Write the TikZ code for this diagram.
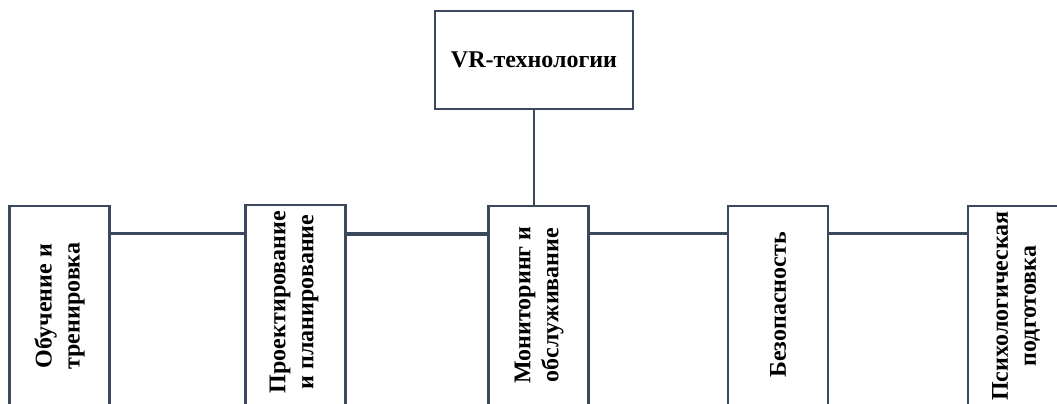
\documentclass[tikz,border=0pt]{standalone}
\usepackage{fontspec}
\setmainfont{Liberation Serif}
\definecolor{edge}{RGB}{60,73,92}
\tikzset{
  box/.style={draw=edge, line width=2.2pt, fill=white, inner sep=0pt},
  topbox/.style={box, minimum width=198pt, minimum height=98pt, font=\fontsize{24}{28}\selectfont\bfseries},
  catbox/.style={box, minimum width=100pt, minimum height=200pt},
  lbl/.style={rotate=90, align=center, inner sep=0pt, font=\fontsize{24}{28}\selectfont\bfseries},
  link/.style={draw=edge, line width=2.2pt},
  thicklink/.style={draw=edge, line width=4pt}
}
\begin{document}
\begin{tikzpicture}[x=1pt,y=-1pt]
\useasboundingbox (0,0) rectangle (1057,404);
\clip (0,0) rectangle (1057,404);
\node[topbox] (vr) at (534,60) {VR-технологии};
\node[catbox] (o) at (59.5,306) {};
\node[catbox] (p) at (295.5,305) {};
\node[catbox] (m) at (538.5,306) {};
\node[catbox] (b) at (778,306) {};
\node[catbox] (s) at (1018,306) {};
\node[lbl] (ot) at (59.5,306) {Обучение и\\тренировка};
\node[lbl] (pt) at (294,302) {Проектирование\\и планирование};
\node[lbl] (mt) at (539,305) {Мониторинг и\\обслуживание};
\node[lbl] (bt) at (778,305) {Безопасность};
\node[lbl] (st) at (1016,306) {Психологическая\\подготовка};
\coordinate (h) at (0,233.5);
\draw[link] (vr.south) -- (vr.south |- m.north);
\draw[link] (o.east |- h) -- (p.west |- h);
\draw[thicklink] (p.east |- h) -- (m.west |- h);
\draw[link] (m.east |- h) -- (b.west |- h);
\draw[link] (b.east |- h) -- (s.west |- h);
\end{tikzpicture}
\end{document}
